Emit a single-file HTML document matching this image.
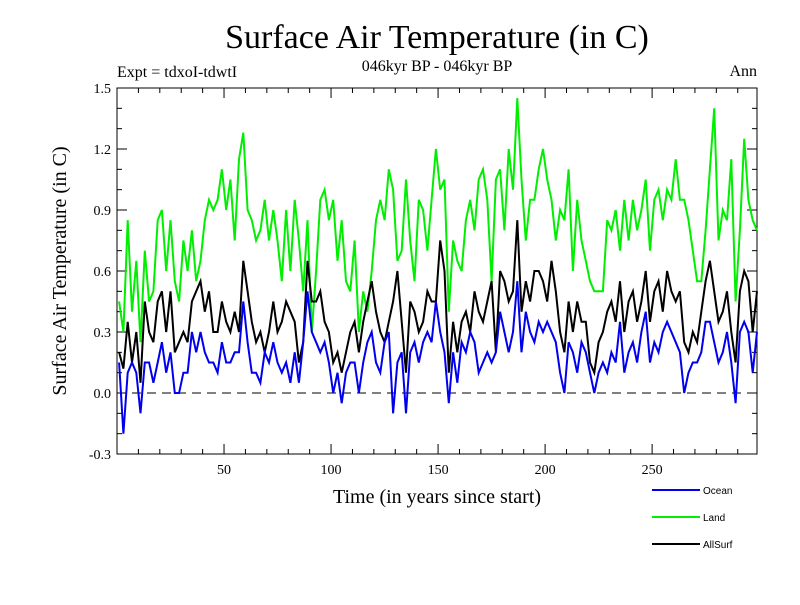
<!DOCTYPE html>
<html><head><meta charset="utf-8"><style>
body{margin:0;background:#fff;width:800px;height:600px;overflow:hidden}
svg text{font-family:"Liberation Serif",serif}
</style></head><body>
<svg id="chart" width="800" height="600">
<text x="437" y="48" font-size="34" text-anchor="middle">Surface Air Temperature (in C)</text>
<text x="117" y="77" font-size="16">Expt = tdxoI-tdwtI</text>
<text x="437" y="71" font-size="16" text-anchor="middle">046kyr BP - 046kyr BP</text>
<text x="757" y="76" font-size="16" text-anchor="end">Ann</text>
<text x="437" y="503" font-size="20" text-anchor="middle">Time (in years since start)</text>
<text transform="translate(66,271) rotate(-90)" font-size="20" text-anchor="middle">Surface Air Temperature (in C)</text>
<g id="axes"></g><g id="series"></g><g id="legend"></g>
</svg>
<script>
const years=[];for(let y=1;y<=299;y+=2)years.push(y);
const land=[.45,.3,.85,.4,.65,.25,.7,.45,.5,.85,.9,.6,.85,.55,.45,.75,.6,.8,.55,.65,.85,.95,.9,.95,1.1,.9,1.05,.75,1.15,1.28,.9,.85,.75,.8,.95,.75,.9,.75,.55,.9,.6,.95,.75,.5,.85,.3,.6,.95,1.0,.85,.95,.65,.85,.55,.5,.75,.3,.5,.4,.6,.85,.95,.85,1.1,1.0,.65,.7,1.05,.75,.55,.95,.9,.7,.95,1.2,1.0,1.05,.4,.75,.65,.6,.85,.95,.8,1.05,1.1,.95,.55,1.05,1.1,.8,1.2,1.0,1.45,1.05,.75,.95,.95,1.1,1.2,1.05,.95,.75,.9,.85,1.1,.6,.95,.75,.65,.55,.5,.5,.5,.85,.8,.9,.7,.95,.75,.95,.8,.9,1.05,.7,.95,1.0,.85,1.0,.95,1.15,.95,.95,.85,.7,.55,.55,.8,1.1,1.4,.75,.9,.85,1.15,.45,.8,1.25,.95,.85,.8];
const allsurf=[.2,.12,.35,.15,.3,.05,.45,.3,.25,.45,.5,.3,.5,.2,.25,.3,.25,.45,.5,.55,.4,.5,.3,.3,.45,.35,.3,.4,.3,.65,.5,.35,.25,.3,.2,.3,.45,.3,.35,.45,.4,.35,.15,.25,.65,.45,.45,.5,.35,.3,.15,.2,.1,.2,.3,.35,.2,.35,.45,.55,.4,.3,.25,.35,.45,.6,.35,.1,.45,.4,.3,.35,.5,.45,.45,.75,.6,.1,.35,.2,.35,.4,.3,.5,.4,.35,.45,.55,.2,.6,.55,.45,.5,.85,.4,.55,.45,.6,.6,.55,.45,.65,.5,.3,.2,.45,.3,.45,.35,.35,.15,.1,.25,.3,.4,.45,.35,.55,.3,.45,.5,.35,.45,.6,.35,.5,.55,.4,.6,.5,.45,.5,.25,.2,.3,.25,.4,.55,.65,.5,.35,.4,.5,.3,.15,.5,.6,.55,.3,.5];
const ocean=[.15,-.2,.1,.15,.1,-.1,.15,.15,.05,.15,.25,.1,.2,0,0,.1,.1,.3,.2,.3,.2,.15,.15,.1,.25,.15,.15,.2,.2,.45,.25,.1,.1,.05,.2,.15,.25,.15,.1,.15,.05,.2,.05,.25,.5,.3,.25,.2,.25,.15,0,.1,-.05,.1,.15,.15,0,.15,.25,.3,.15,.1,.25,.3,-.1,.15,.2,-.1,.2,.25,.15,.25,.3,.25,.45,.3,.2,-.05,.2,.05,.25,.2,.3,.25,.1,.15,.2,.15,.2,.4,.3,.2,.3,.55,.2,.4,.3,.25,.35,.3,.35,.3,.25,.1,0,.25,.2,.1,.25,.2,.1,0,.1,.15,.1,.2,.15,.35,.1,.2,.25,.15,.3,.4,.15,.25,.2,.3,.35,.3,.25,.2,0,.1,.15,.15,.2,.35,.35,.25,.15,.2,.3,.15,-.05,.3,.35,.3,.1,.3];
const xTicks=[50,100,150,200,250];
const yTicks=[-0.3,0,0.3,0.6,0.9,1.2,1.5];
const L=117,R=757,T=88,B=454,X0=0,X1=299,Y0=-0.3,Y1=1.5;
const xs=v=>L+(v-X0)/(X1-X0)*(R-L), ys=v=>B-(v-Y0)/(Y1-Y0)*(B-T);
const NS='http://www.w3.org/2000/svg';
function mk(t,a,p){const e=document.createElementNS(NS,t);for(const k in a)e.setAttribute(k,a[k]);p.appendChild(e);return e;}
const ax=document.getElementById('axes');
const frame=mk('rect',{x:L,y:T,width:R-L,height:B-T,fill:'none',stroke:'#000','stroke-width':1},ax);


const zl=mk('line',{x1:L,x2:R,y1:ys(0),y2:ys(0),stroke:'#000','stroke-dasharray':'9,6'},ax);


for(let v=10;v<X1;v+=10){const len=v%50===0?10:5;
 mk('line',{x1:xs(v),x2:xs(v),y1:B,y2:B-len,stroke:'#000'},ax);
 mk('line',{x1:xs(v),x2:xs(v),y1:T,y2:T+len,stroke:'#000'},ax);}
for(let i=-3;i<=15;i++){const v=i/10,len=i%3===0?10:5;
 mk('line',{x1:L,x2:L+len,y1:ys(v),y2:ys(v),stroke:'#000'},ax);
 mk('line',{x1:R,x2:R-len,y1:ys(v),y2:ys(v),stroke:'#000'},ax);}
xTicks.forEach(v=>{const t=mk('text',{x:xs(v),y:B+20,'font-size':14,'text-anchor':'middle'},ax);t.textContent=v;
 
 });
yTicks.forEach(v=>{const t=mk('text',{x:L-6,y:ys(v)+5,'font-size':14,'text-anchor':'end'},ax);t.textContent=v.toFixed(1);
 
 });
const sg=document.getElementById('series');
function line(data,color,name){const d=data.map((v,i)=>(i?'L':'M')+xs(years[i]).toFixed(1)+','+ys(v).toFixed(1)).join('');
 const p=mk('path',{d:d,fill:'none',stroke:color,'stroke-width':2},sg);
 
 }
line(land,'#00ee00','land-line');
line(allsurf,'#000000','allsurf-line');
line(ocean,'#0000ee','ocean-line');
const lg=document.getElementById('legend');
[['Ocean','#0000ee',490],['Land','#00ee00',517],['AllSurf','#000',544]].forEach(([n,c,y])=>{
 const g=mk('g',{},lg);
 
 
 mk('line',{x1:652,x2:700,y1:y,y2:y,stroke:c,'stroke-width':2},g);
 const t=mk('text',{x:703,y:y+4,'font-size':10,style:'font-family:"Liberation Sans",sans-serif'},g);t.textContent=n;});
</script>
</body></html>
